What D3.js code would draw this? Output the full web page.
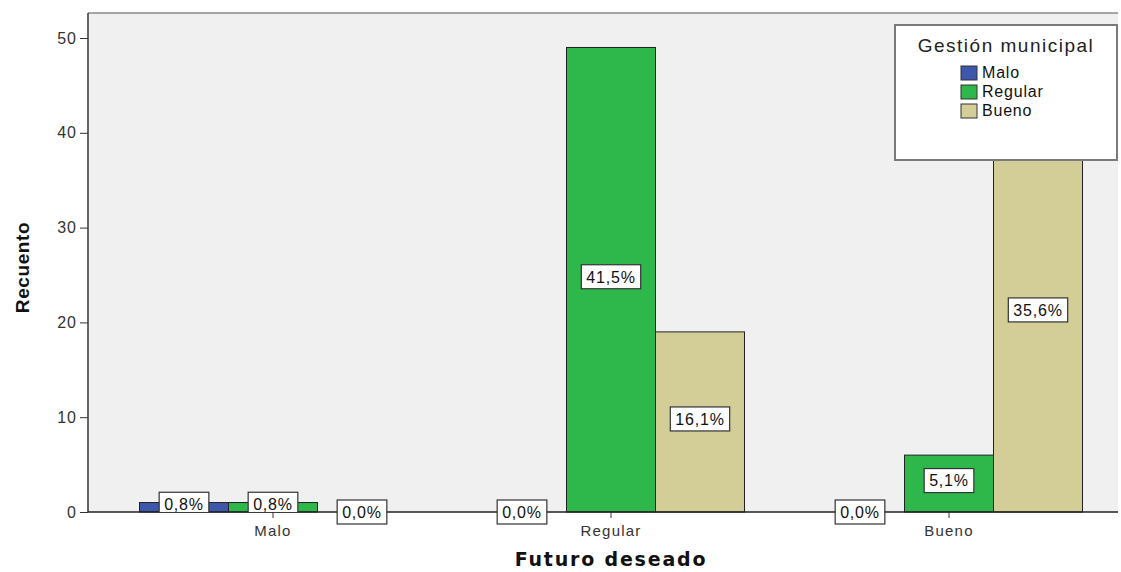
<!DOCTYPE html>
<html>
<head>
<meta charset="utf-8">
<script src="https://cdn.jsdelivr.net/npm/d3@7"></script>
<style>
  body { margin: 0; background: #fff; }
  svg { display: block; font-family: "Liberation Sans", Arial, sans-serif; }
</style>
</head>
<body>
<div id="chart"></div>
<script>
// Clustered bar chart: Futuro deseado x Gestión municipal (counts, % of total)
const categories = ['Malo', 'Regular', 'Bueno'];
const series = ['Malo', 'Regular', 'Bueno'];
const maloCounts = [1, 0, 0];
const regularCounts = [1, 49, 6];
const buenoCounts = [0, 19, 42];
const percentLabels = [
    ['0,8%', '0,0%', '0,0%'],
    ['0,8%', '41,5%', '5,1%'],
    ['0,0%', '16,1%', '35,6%'],
];
const yTicks = [0, 10, 20, 30, 40, 50];

const COLORS = ['#3d57ab', '#2eb84b', '#d3cd97'];
const counts = [maloCounts, regularCounts, buenoCounts];

const width = 1121, height = 572;
const plot = { left: 88, top: 13, right: 1118, bottom: 512 };

const svg = d3.select('#chart').append('svg')
    .attr('width', width).attr('height', height);

svg.append('defs').append('clipPath').attr('id', 'plotClip')
    .append('rect')
    .attr('x', plot.left).attr('y', plot.top)
    .attr('width', plot.right - plot.left).attr('height', plot.bottom - plot.top);

const y = d3.scaleLinear().domain([0, 50]).range([plot.bottom, plot.bottom - 50 * 9.48]);
const x0 = d3.scaleBand().domain(categories).range([104, 1118]).padding(0);
const x1 = d3.scaleBand().domain(series).range([0, x0.bandwidth()]).paddingOuter(0.399).paddingInner(0);

// Plot background + frame
svg.append('rect')
    .attr('x', plot.left).attr('y', plot.top)
    .attr('width', plot.right - plot.left).attr('height', plot.bottom - plot.top)
    .attr('fill', '#f0f0f0');
svg.append('line')
    .attr('x1', plot.left).attr('x2', plot.right)
    .attr('y1', plot.top).attr('y2', plot.top)
    .attr('stroke', '#8a8a8a').attr('stroke-width', 1.5);

// Bars
const barGroup = svg.append('g');
categories.forEach((cat, ci) => {
    series.forEach((s, si) => {
        const v = counts[si][ci];
        const bx = x0(cat) + x1(s);
        barGroup.append('rect')
            .attr('x', bx).attr('y', y(v))
            .attr('width', x1.bandwidth()).attr('height', y(0) - y(v))
            .attr('fill', COLORS[si])
            .attr('stroke', '#222').attr('stroke-width', 1);
    });
});

// Y axis
const yAxis = svg.append('g')
    .attr('transform', `translate(${plot.left},0)`)
    .call(d3.axisLeft(y).tickValues(yTicks).tickSize(8).tickPadding(3).tickFormat(d3.format('d')));
yAxis.select('.domain').attr('stroke', '#333').attr('stroke-width', 1.5)
    .attr('d', `M0,${plot.top}V${plot.bottom}`);
yAxis.selectAll('.tick line').attr('stroke', '#333');
yAxis.selectAll('.tick text').attr('fill', '#333').attr('font-size', '16px')
    .attr('letter-spacing', '1px')
    .attr('font-family', '"Liberation Sans", Arial, sans-serif');

// X axis
const xAxis = svg.append('g')
    .attr('transform', `translate(0,${plot.bottom})`)
    .call(d3.axisBottom(x0).tickSize(6).tickPadding(7));
xAxis.select('.domain').attr('stroke', '#222').attr('stroke-width', 1.5)
    .attr('d', `M${plot.left},0H${plot.right}`);
xAxis.selectAll('.tick line').attr('stroke', '#333');
xAxis.selectAll('.tick text').attr('fill', '#333').attr('font-size', '15px')
    .attr('letter-spacing', '1.2px')
    .attr('font-family', '"Liberation Sans", Arial, sans-serif');

// Percent labels
const labelGroup = svg.append('g');
categories.forEach((cat, ci) => {
    series.forEach((s, si) => {
        const v = counts[si][ci];
        const cx = x0(cat) + x1(s) + x1.bandwidth() / 2;
        const cy = (y(0) + y(v)) / 2 - (v > 0 ? 3 : 0);
        const g = labelGroup.append('g');
        if (v > 0) g.attr('clip-path', 'url(#plotClip)');
        const txt = g.append('text')
            .attr('x', cx).attr('y', cy)
            .attr('text-anchor', 'middle').attr('dy', '0.36em')
            .attr('font-size', '16px').attr('fill', '#111')
            .attr('letter-spacing', '0.8px')
            .text(percentLabels[si][ci]);
        const w = txt.node().getComputedTextLength() + 10;
        g.insert('rect', 'text')
            .attr('x', cx - w / 2).attr('y', cy - 12)
            .attr('width', w).attr('height', 24)
            .attr('fill', '#fff').attr('stroke', '#333').attr('stroke-width', 1.2);
    });
});

// Axis titles
svg.append('text')
    .attr('transform', `translate(29,${(plot.top + plot.bottom) / 2 + 5}) rotate(-90)`)
    .attr('text-anchor', 'middle')
    .attr('font-size', '19px').attr('font-weight', 'bold').attr('fill', '#111')
    .attr('letter-spacing', '0.6px')
    .text('Recuento');
svg.append('text')
    .attr('x', 611).attr('y', 566)
    .attr('text-anchor', 'middle')
    .attr('font-family', '"DejaVu Sans", sans-serif')
    .attr('font-size', '19px').attr('font-weight', 'bold').attr('fill', '#111')
    .attr('letter-spacing', '1.8px')
    .text('Futuro deseado');

// Legend
const legend = svg.append('g').attr('transform', 'translate(895,25)');
legend.append('rect')
    .attr('width', 222).attr('height', 135)
    .attr('fill', '#fff').attr('stroke', '#7a7a7a').attr('stroke-width', 2);
legend.append('text')
    .attr('x', 111).attr('y', 27)
    .attr('text-anchor', 'middle')
    .attr('font-size', '19px').attr('fill', '#222').attr('letter-spacing', '1.5px')
    .text('Gestión municipal');
series.forEach((s, i) => {
    legend.append('rect')
        .attr('x', 66).attr('y', 41 + i * 19)
        .attr('width', 16).attr('height', 14)
        .attr('fill', COLORS[i]).attr('stroke', '#333').attr('stroke-width', 1);
    legend.append('text')
        .attr('x', 87).attr('y', 53 + i * 19)
        .attr('font-size', '16px').attr('fill', '#111')
        .attr('letter-spacing', '0.8px')
        .text(s);
});
</script>
</body>
</html>
